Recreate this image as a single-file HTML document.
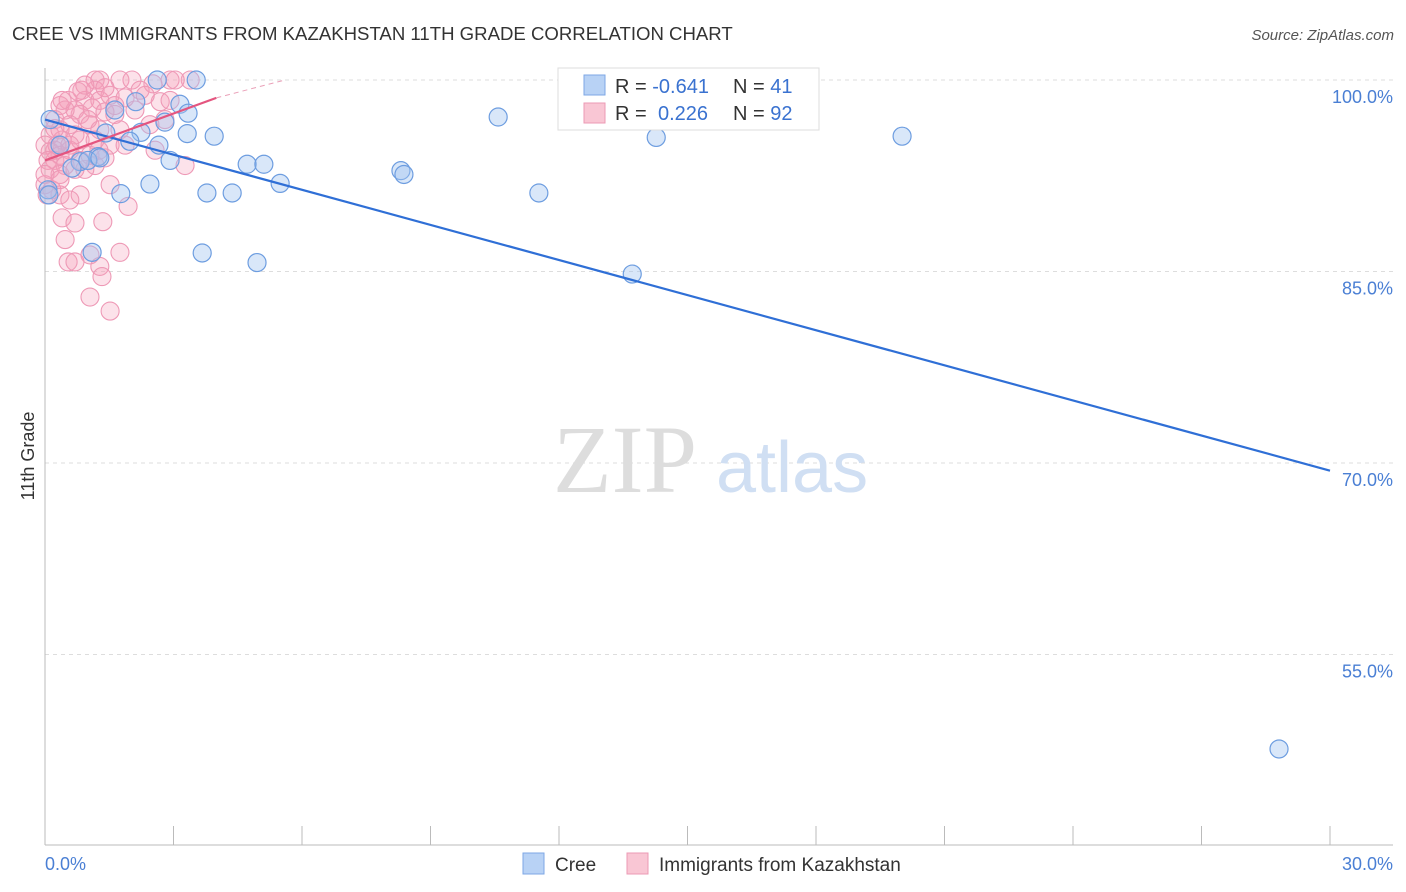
<!DOCTYPE html>
<html><head><meta charset="utf-8"><style>
body{margin:0;background:#fff;font-family:"Liberation Sans",sans-serif;}
svg{display:block}
</style></head><body>
<svg id="c" width="1406" height="892" viewBox="0 0 1406 892">
<text x="12" y="40" font-size="18.6" fill="#333">CREE VS IMMIGRANTS FROM KAZAKHSTAN 11TH GRADE CORRELATION CHART</text>
<text x="1394" y="40" font-size="15" fill="#555" font-style="italic" text-anchor="end">Source: ZipAtlas.com</text>
<g id="grid"></g>
<g>
<text x="553" y="492" font-family="Liberation Serif,serif" font-size="96" fill="#ddd">ZIP</text>
<text x="716" y="492" font-size="72" fill="#d0dff3">atlas</text>
</g>
<line x1="45" y1="68" x2="45" y2="845" stroke="#bbb"/>
<line x1="45" y1="845" x2="1393" y2="845" stroke="#bbb"/>
<g id="ticks"></g>
<text transform="translate(34,456) rotate(-90)" font-size="18" fill="#333" text-anchor="middle">11th Grade</text>
<text x="45" y="870" font-size="18" fill="#4a7fd4">0.0%</text>
<text x="1393" y="870" font-size="18" fill="#4a7fd4" text-anchor="end">30.0%</text>
<g id="pts"></g>
<g id="trend"></g>
<g>
<rect x="558" y="68" width="261" height="62" fill="#fff" stroke="#ddd"/>
<rect x="584" y="75" width="21" height="20" fill="#b8d2f5" stroke="#7ea7e5"/>
<rect x="584" y="103" width="21" height="20" fill="#f9c6d4" stroke="#ec9ab4"/>
<text x="615" y="93" font-size="20" fill="#333">R = <tspan fill="#3a72d0">-0.641</tspan></text>
<text x="733" y="93" font-size="20" fill="#333">N = <tspan fill="#3a72d0"> 41</tspan></text>
<text x="615" y="120" font-size="20" fill="#333">R = <tspan fill="#3a72d0" x="658">0.226</tspan></text>
<text x="733" y="120" font-size="20" fill="#333">N = <tspan fill="#3a72d0">92</tspan></text>
</g>
<g>
<rect x="523" y="853" width="21" height="21" fill="#b8d2f5" stroke="#7ea7e5"/>
<text x="555" y="871" font-size="19" fill="#333">Cree</text>
<rect x="627" y="853" width="21" height="21" fill="#f9c6d4" stroke="#ec9ab4"/>
<text x="659" y="871" font-size="19" fill="#333">Immigrants from Kazakhstan</text>
</g>
</svg>
<script>
const yTicks=[100,85,70,55];
const yTickLabels=["100.0%","85.0%","70.0%","55.0%"];
const xTickCount=10;
const creeX=[2.62,3.53,3.15,3.34,1.63,2.12,2.80,2.24,3.32,3.95,1.42,1.98,2.66,2.92,1.24,0.82,0.63,4.72,5.11,5.49,2.45,1.77,3.78,4.37,8.31,8.38,10.58,14.27,20.01,11.53,3.67,4.95,1.10,13.71,28.81,0.07,0.12,0.35,1.0,1.28,0.09];
const creeY=[100,100,98.1,97.4,97.65,98.3,96.7,95.9,95.8,95.6,95.85,95.2,94.9,93.7,94.0,93.6,93.1,93.4,93.4,91.9,91.85,91.1,91.15,91.15,92.9,92.6,97.1,95.5,95.6,91.15,86.45,85.7,86.5,84.8,47.6,91.4,96.9,94.9,93.7,93.9,91.0];
const kazX=[1.17,1.28,1.75,3.39,2.92,3.04,2.03,2.52,0.86,1.17,2.22,1.52,0.54,0.93,1.28,1.87,2.69,2.92,0.35,0.7,1.1,1.4,0.82,1.63,2.8,0.23,0.58,1.05,1.28,0.35,0.7,1.75,0.12,0.4,0.82,1.52,1.87,2.57,0.23,0,0.12,0.35,0.58,1.05,1.4,0.23,0.47,0.82,1.17,3.27,0.07,0.12,0.35,0.7,0.93,1.52,0,0.16,0.35,0.82,1.94,0.58,0.4,0.7,1.35,0.47,1.05,1.75,0.54,0.7,1.28,1.33,1.05,1.52,0.35,0,0.05,0.23,0.47,0.93,1.4,1.63,2.1,2.34,2.45,1.17,0.58,0.28,0.4,0.77,1.0,1.26];
const kazY=[100,100,100,100,100,100,100,99.7,99.2,99.2,99.2,98.8,98.4,98.4,98.4,98.6,98.3,98.4,98.0,97.65,97.8,97.5,97.3,97.3,96.9,96.9,96.5,96.5,96.1,96.1,95.7,96.1,95.7,95.3,95.3,94.9,94.9,94.5,94.5,94.9,94.4,94.1,94.5,94.1,93.9,93.7,93.3,93.7,93.3,93.3,93.7,93.0,92.6,93.0,93.0,91.8,91.8,91.4,91.0,91.0,90.1,90.6,89.2,88.8,88.9,87.5,86.3,86.5,85.75,85.75,85.4,84.6,83.0,81.9,92.2,92.6,91.0,96.2,97.65,99.6,99.4,98.0,97.65,98.8,96.5,95.3,94.9,94.9,98.4,99.1,96.9,94.5];
const creeTrend=[[0,96.9],[30,69.4]];
const kazTrendSolid=[[0,93.7],[4.0,98.6]];
const kazTrendDash=[[4.0,98.6],[5.6,100]];
const X0=45,X1=1330,Y100=80,PXPER15=191.5;
const sx=v=>X0+(X1-X0)*v/30;
const sy=v=>Y100+(100-v)/15*PXPER15;
const NS="http://www.w3.org/2000/svg";
const mk=(t,a,p)=>{const e=document.createElementNS(NS,t);for(const k in a)e.setAttribute(k,a[k]);p.appendChild(e);return e;};
const grid=document.getElementById('grid');
yTicks.forEach((t,i)=>{
 const l=mk('line',{x1:45,x2:1393,y1:sy(t),y2:sy(t),stroke:'#ddd','stroke-dasharray':'4,4'},grid);
 
 
 const tx=mk('text',{x:1393,y:sy(t)+23,'font-size':18,fill:'#4a7fd4','text-anchor':'end'},grid);
 tx.textContent=yTickLabels[i];
 
 
});
const ticks=document.getElementById('ticks');
for(let i=1;i<=xTickCount;i++){
 const l=mk('line',{x1:sx(i*3),x2:sx(i*3),y1:826,y2:845,stroke:'#bbb'},ticks);
 
 
}
const pts=document.getElementById('pts');
kazX.forEach((x,i)=>{
 const c=mk('circle',{cx:sx(x),cy:sy(kazY[i]),r:9,fill:'rgba(244,160,186,0.3)',stroke:'#ee99b6','stroke-width':1.1},pts);
 
 
});
creeX.forEach((x,i)=>{
 const c=mk('circle',{cx:sx(x),cy:sy(creeY[i]),r:9,fill:'rgba(160,196,240,0.4)',stroke:'#6d9de0','stroke-width':1.2},pts);
 
 
});
const tr=document.getElementById('trend');
const l1=mk('line',{x1:sx(creeTrend[0][0]),y1:sy(creeTrend[0][1]),x2:sx(creeTrend[1][0]),y2:sy(creeTrend[1][1]),stroke:'#2f6fd6','stroke-width':2.2},tr);


const l2=mk('line',{x1:sx(kazTrendSolid[0][0]),y1:sy(kazTrendSolid[0][1]),x2:sx(kazTrendSolid[1][0]),y2:sy(kazTrendSolid[1][1]),stroke:'#e4557f','stroke-width':2.2},tr);


const l3=mk('line',{x1:sx(kazTrendDash[0][0]),y1:sy(kazTrendDash[0][1]),x2:sx(kazTrendDash[1][0]),y2:sy(kazTrendDash[1][1]),stroke:'#eaa0b8','stroke-width':1,'stroke-dasharray':'5,4'},tr);


</script>
</body></html>
